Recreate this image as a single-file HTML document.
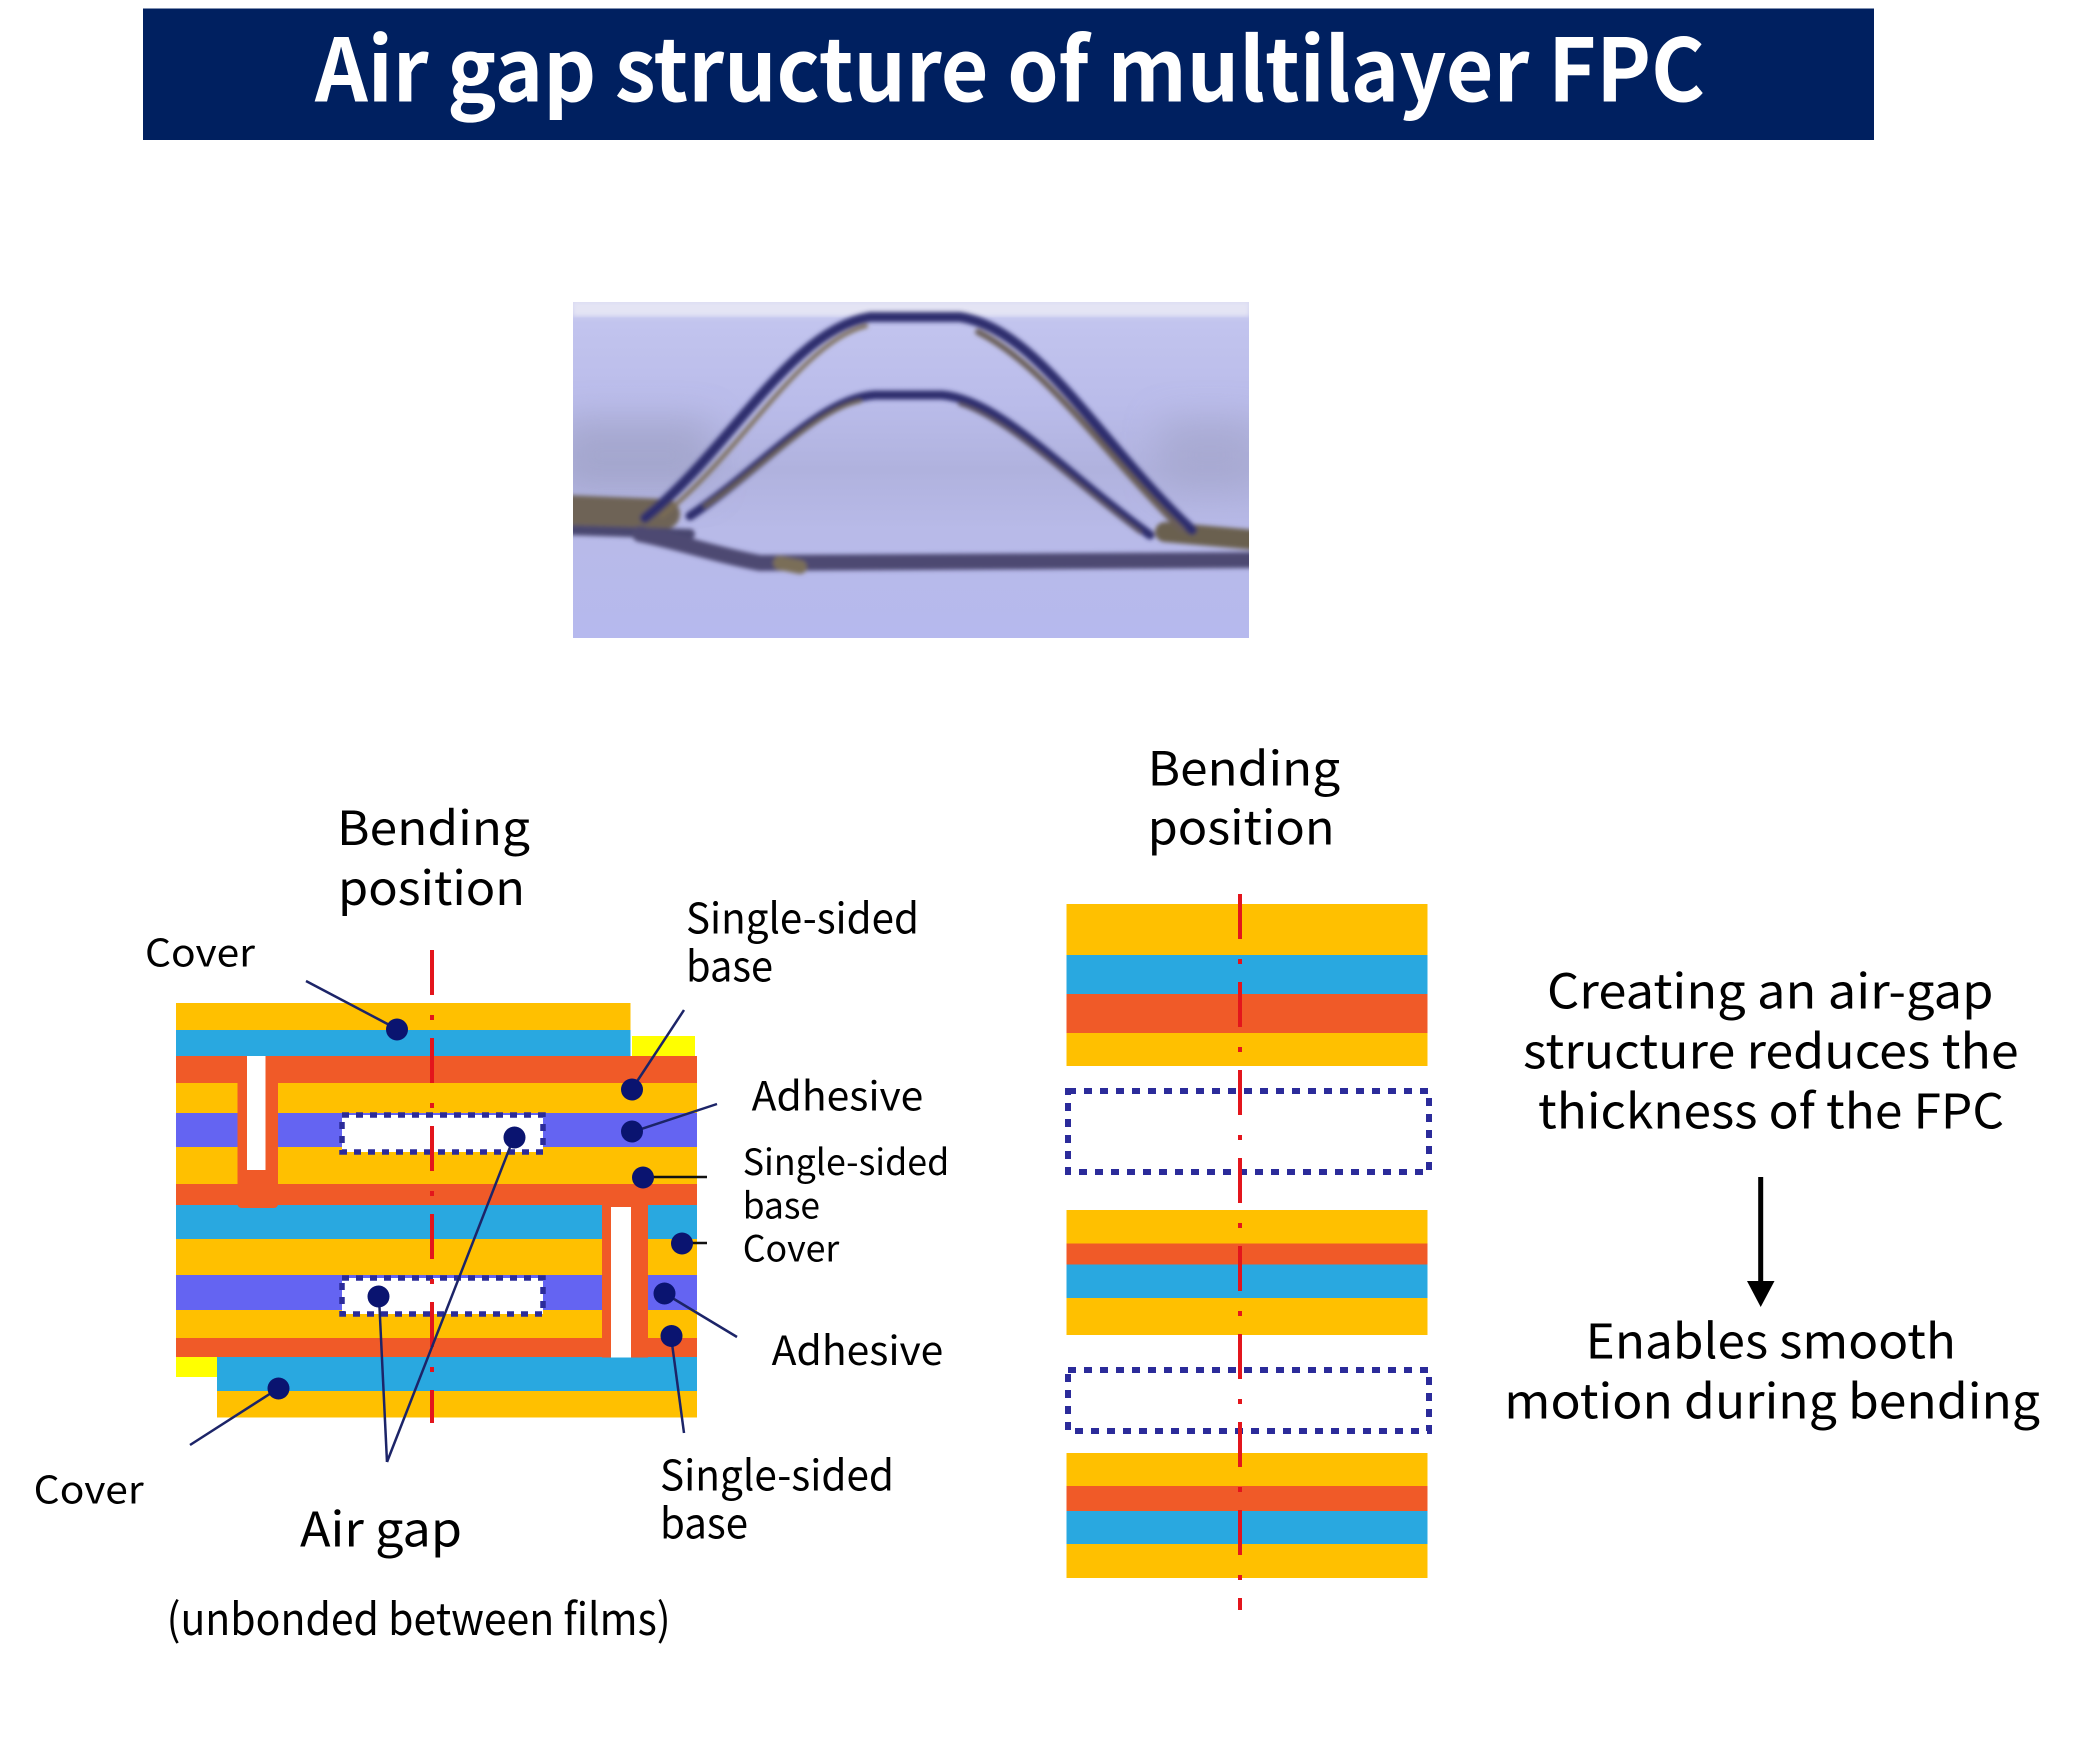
<!DOCTYPE html>
<html>
<head>
<meta charset="utf-8">
<style>
html,body{margin:0;padding:0;background:#ffffff;}
svg{display:block;}
</style>
</head>
<body>
<svg width="2084" height="1746" viewBox="0 0 2084 1746" xmlns="http://www.w3.org/2000/svg">
  <defs>
    <clipPath id="pc"><rect x="573" y="302" width="676" height="336"/></clipPath>
    <linearGradient id="pg" x1="0" y1="0" x2="0" y2="1">
      <stop offset="0" stop-color="#d8d9f2"/>
      <stop offset="0.06" stop-color="#c2c4ee"/>
      <stop offset="0.3" stop-color="#babcea"/>
      <stop offset="0.5" stop-color="#b0b2de"/>
      <stop offset="0.68" stop-color="#b8bae8"/>
      <stop offset="1" stop-color="#b6b9ee"/>
    </linearGradient>
    <filter id="bl" x="-10%" y="-10%" width="120%" height="120%"><feGaussianBlur stdDeviation="2.2"/></filter>
    <filter id="bl2" x="-50%" y="-80%" width="200%" height="260%"><feGaussianBlur stdDeviation="18"/></filter>
  </defs>

  <!-- Title bar -->
  <rect x="143" y="8.5" width="1731" height="131.5" fill="#002060"/>
  <text x="315" y="101.7" font-family="'Noto Sans CJK JP','Liberation Sans',sans-serif" font-weight="700" font-size="87" fill="#ffffff" textLength="1390" lengthAdjust="spacingAndGlyphs">Air gap structure of multilayer FPC</text>

  <!-- Photo -->
  <g clip-path="url(#pc)">
    <rect x="573" y="302" width="676" height="336" fill="url(#pg)"/>
    <rect x="573" y="302" width="676" height="14" fill="#e4e4f4" filter="url(#bl)"/>
    <rect x="560" y="420" width="150" height="70" fill="#9fa1c6" opacity="0.7" filter="url(#bl2)"/>
    <rect x="1160" y="420" width="100" height="70" fill="#a4a6cc" opacity="0.7" filter="url(#bl2)"/>
    <g filter="url(#bl)" fill="none" stroke-linecap="round">
      <!-- left thick band -->
      <path d="M 565 510 L 665 514" stroke="#6e6456" stroke-width="30"/>
      <path d="M 565 530 L 690 534" stroke="#4a4670" stroke-width="10"/>
      <!-- bottom band -->
      <path d="M 640 534 C 680 542, 720 556, 760 563 L 1255 560" stroke="#4e4a72" stroke-width="16"/>
      <path d="M 780 563 L 800 567" stroke="#7a6e58" stroke-width="14"/>
      <!-- right band -->
      <path d="M 1165 532 L 1255 540" stroke="#6a6050" stroke-width="20"/>
      <!-- outer arch -->
      <path d="M 645 518 C 730 450, 790 330, 870 317 L 960 317 C 1040 330, 1100 445, 1192 530" stroke="#2e2f6e" stroke-width="10"/>
      <path d="M 662 516 C 740 455, 800 342, 866 326" stroke="#7a6c54" stroke-width="4"/>
      <path d="M 978 332 C 1045 365, 1105 455, 1182 530" stroke="#6a5e58" stroke-width="6"/>
      <!-- inner arch -->
      <path d="M 690 516 C 760 470, 820 398, 875 395 L 942 395 C 1000 400, 1060 470, 1150 535" stroke="#2e2f6e" stroke-width="9"/>
      <path d="M 705 506 C 760 470, 815 410, 860 401" stroke="#6a6052" stroke-width="4"/>
      <path d="M 960 404 C 1010 420, 1070 480, 1140 532" stroke="#5c5262" stroke-width="4"/>
    </g>
  </g>

  <!-- ============ LEFT STACK ============ -->
  <g>
    <rect x="176" y="1003" width="454.5" height="27" fill="#FFC000"/>
    <rect x="176" y="1030" width="454.5" height="26.5" fill="#29A8E0"/>
    <rect x="632" y="1036" width="63" height="21" fill="#FFFF00"/>
    <rect x="176" y="1056" width="521" height="27.5" fill="#F05A28"/>
    <rect x="176" y="1083" width="521" height="30.5" fill="#FFC000"/>
    <rect x="176" y="1113" width="521" height="34.5" fill="#6464F2"/>
    <rect x="176" y="1147" width="521" height="37.5" fill="#FFC000"/>
    <rect x="176" y="1184" width="521" height="21.5" fill="#F05A28"/>
    <rect x="176" y="1205" width="521" height="34.5" fill="#29A8E0"/>
    <rect x="176" y="1239" width="521" height="36.5" fill="#FFC000"/>
    <rect x="176" y="1275" width="521" height="35.5" fill="#6464F2"/>
    <rect x="176" y="1310" width="521" height="28.5" fill="#FFC000"/>
    <rect x="176" y="1338" width="521" height="19.5" fill="#F05A28"/>
    <rect x="176" y="1357" width="41" height="20" fill="#FFFF00"/>
    <rect x="217" y="1357" width="480" height="34" fill="#29A8E0"/>
    <rect x="217" y="1391" width="480" height="26.5" fill="#FFC000"/>

    <rect x="237.5" y="1056" width="40.5" height="152" rx="4" fill="#F05A28"/>
    <rect x="247" y="1056" width="18.5" height="114" fill="#ffffff"/>
    <rect x="602" y="1184" width="46" height="173.5" fill="#F05A28"/>
    <rect x="611" y="1207" width="20" height="150.5" fill="#ffffff"/>

    <rect x="342" y="1115" width="201" height="37" fill="#ffffff" stroke="#2B2B9A" stroke-width="5.5" stroke-dasharray="7 7"/>
    <rect x="342" y="1278" width="201" height="36" fill="#ffffff" stroke="#2B2B9A" stroke-width="5.5" stroke-dasharray="7 7"/>

    <line x1="432" y1="950" x2="432" y2="1423" stroke="#E3151C" stroke-width="4" stroke-dasharray="45 20 5 18"/>
  </g>

  <!-- connector lines -->
  <g stroke="#1c2468" stroke-width="2.5" fill="none">
    <line x1="306" y1="981" x2="397" y2="1029"/>
    <line x1="684" y1="1010" x2="632" y2="1089"/>
    <line x1="717" y1="1104" x2="632" y2="1132"/>
    <line x1="707" y1="1177" x2="643" y2="1177" stroke="#111111"/>
    <line x1="387" y1="1462" x2="514" y2="1137"/>
    <line x1="707" y1="1243" x2="682" y2="1243" stroke="#111111"/>
    <line x1="737" y1="1337" x2="664" y2="1293"/>
    <line x1="684" y1="1433" x2="671" y2="1336"/>
    <line x1="387" y1="1462" x2="379" y2="1297"/>
    <line x1="190" y1="1445" x2="279" y2="1388"/>
  </g>
  <g fill="#0A1470">
    <circle cx="397" cy="1029.5" r="11"/>
    <circle cx="632" cy="1089.5" r="11"/>
    <circle cx="632" cy="1131.5" r="11"/>
    <circle cx="643" cy="1177.5" r="11"/>
    <circle cx="514.5" cy="1137.5" r="11"/>
    <circle cx="682" cy="1243.5" r="11"/>
    <circle cx="664.5" cy="1293.5" r="11"/>
    <circle cx="671.5" cy="1336" r="11"/>
    <circle cx="378.5" cy="1296.5" r="11"/>
    <circle cx="278.5" cy="1388.5" r="11"/>
  </g>

  <!-- left labels -->
  <g font-family="'Noto Sans CJK JP','Liberation Sans',sans-serif" fill="#000000">
    <text x="337" y="845" font-size="47" textLength="193" lengthAdjust="spacingAndGlyphs">Bending</text>
    <text x="338" y="905" font-size="47" textLength="187" lengthAdjust="spacingAndGlyphs">position</text>
    <text x="145" y="966.7" font-size="38" textLength="110" lengthAdjust="spacingAndGlyphs">Cover</text>
    <text x="686" y="933.3" font-size="42" textLength="233" lengthAdjust="spacingAndGlyphs">Single-sided</text>
    <text x="686" y="981.7" font-size="42" textLength="87" lengthAdjust="spacingAndGlyphs">base</text>
    <text x="751.7" y="1110.7" font-size="40" textLength="171.6" lengthAdjust="spacingAndGlyphs">Adhesive</text>
    <text x="742.7" y="1175" font-size="36" textLength="206.6" lengthAdjust="spacingAndGlyphs">Single-sided</text>
    <text x="742.7" y="1218.3" font-size="36" textLength="77.3" lengthAdjust="spacingAndGlyphs">base</text>
    <text x="742.7" y="1261.7" font-size="36" textLength="96.6" lengthAdjust="spacingAndGlyphs">Cover</text>
    <text x="771.7" y="1365" font-size="40" textLength="171.6" lengthAdjust="spacingAndGlyphs">Adhesive</text>
    <text x="660" y="1490.7" font-size="42" textLength="234" lengthAdjust="spacingAndGlyphs">Single-sided</text>
    <text x="660" y="1538.3" font-size="42" textLength="88" lengthAdjust="spacingAndGlyphs">base</text>
    <text x="33.7" y="1503.3" font-size="38" textLength="110" lengthAdjust="spacingAndGlyphs">Cover</text>
    <text x="300" y="1546.7" font-size="48" textLength="162" lengthAdjust="spacingAndGlyphs">Air gap</text>
    <text x="166.6" y="1635" font-size="44" textLength="504" lengthAdjust="spacingAndGlyphs">(unbonded between films)</text>
  </g>

  <!-- ============ RIGHT STACK ============ -->
  <g>
    <rect x="1066.5" y="904" width="361" height="51.5" fill="#FFC000"/>
    <rect x="1066.5" y="955" width="361" height="39.5" fill="#29A8E0"/>
    <rect x="1066.5" y="994" width="361" height="39" fill="#F05A28"/>
    <rect x="1066.5" y="1033" width="361" height="33" fill="#FFC000"/>

    <rect x="1068" y="1091" width="361" height="81" fill="#ffffff" stroke="#2B2B9A" stroke-width="6" stroke-dasharray="8 8"/>

    <rect x="1066.5" y="1210" width="361" height="34" fill="#FFC000"/>
    <rect x="1066.5" y="1243.5" width="361" height="21.5" fill="#F05A28"/>
    <rect x="1066.5" y="1264.5" width="361" height="34" fill="#29A8E0"/>
    <rect x="1066.5" y="1298" width="361" height="37" fill="#FFC000"/>

    <rect x="1068" y="1370" width="361" height="61" fill="#ffffff" stroke="#2B2B9A" stroke-width="6" stroke-dasharray="8 8"/>

    <rect x="1066.5" y="1453" width="361" height="33.5" fill="#FFC000"/>
    <rect x="1066.5" y="1486" width="361" height="25.5" fill="#F05A28"/>
    <rect x="1066.5" y="1511" width="361" height="33.5" fill="#29A8E0"/>
    <rect x="1066.5" y="1544" width="361" height="34" fill="#FFC000"/>

    <line x1="1240" y1="894" x2="1240" y2="1610" stroke="#E3151C" stroke-width="4" stroke-dasharray="45 20 5 18"/>
  </g>

  <!-- right labels -->
  <g font-family="'Noto Sans CJK JP','Liberation Sans',sans-serif" fill="#000000">
    <text x="1147.6" y="785.4" font-size="47" textLength="192.6" lengthAdjust="spacingAndGlyphs">Bending</text>
    <text x="1147.6" y="844.5" font-size="47" textLength="187" lengthAdjust="spacingAndGlyphs">position</text>

    <text x="1547" y="1008.3" font-size="48" textLength="446.5" lengthAdjust="spacingAndGlyphs">Creating an air-gap</text>
    <text x="1523" y="1068.3" font-size="48" textLength="495.7" lengthAdjust="spacingAndGlyphs">structure reduces the</text>
    <text x="1538" y="1128.3" font-size="48" textLength="466" lengthAdjust="spacingAndGlyphs">thickness of the FPC</text>
    <text x="1585.7" y="1358.3" font-size="48" textLength="370.3" lengthAdjust="spacingAndGlyphs">Enables smooth</text>
    <text x="1504.3" y="1418.3" font-size="48" textLength="535.7" lengthAdjust="spacingAndGlyphs">motion during bending</text>
  </g>

  <!-- arrow -->
  <rect x="1758.2" y="1177" width="5" height="108" fill="#000000"/>
  <polygon points="1747,1281 1774.5,1281 1760.7,1307" fill="#000000"/>
</svg>
</body>
</html>
